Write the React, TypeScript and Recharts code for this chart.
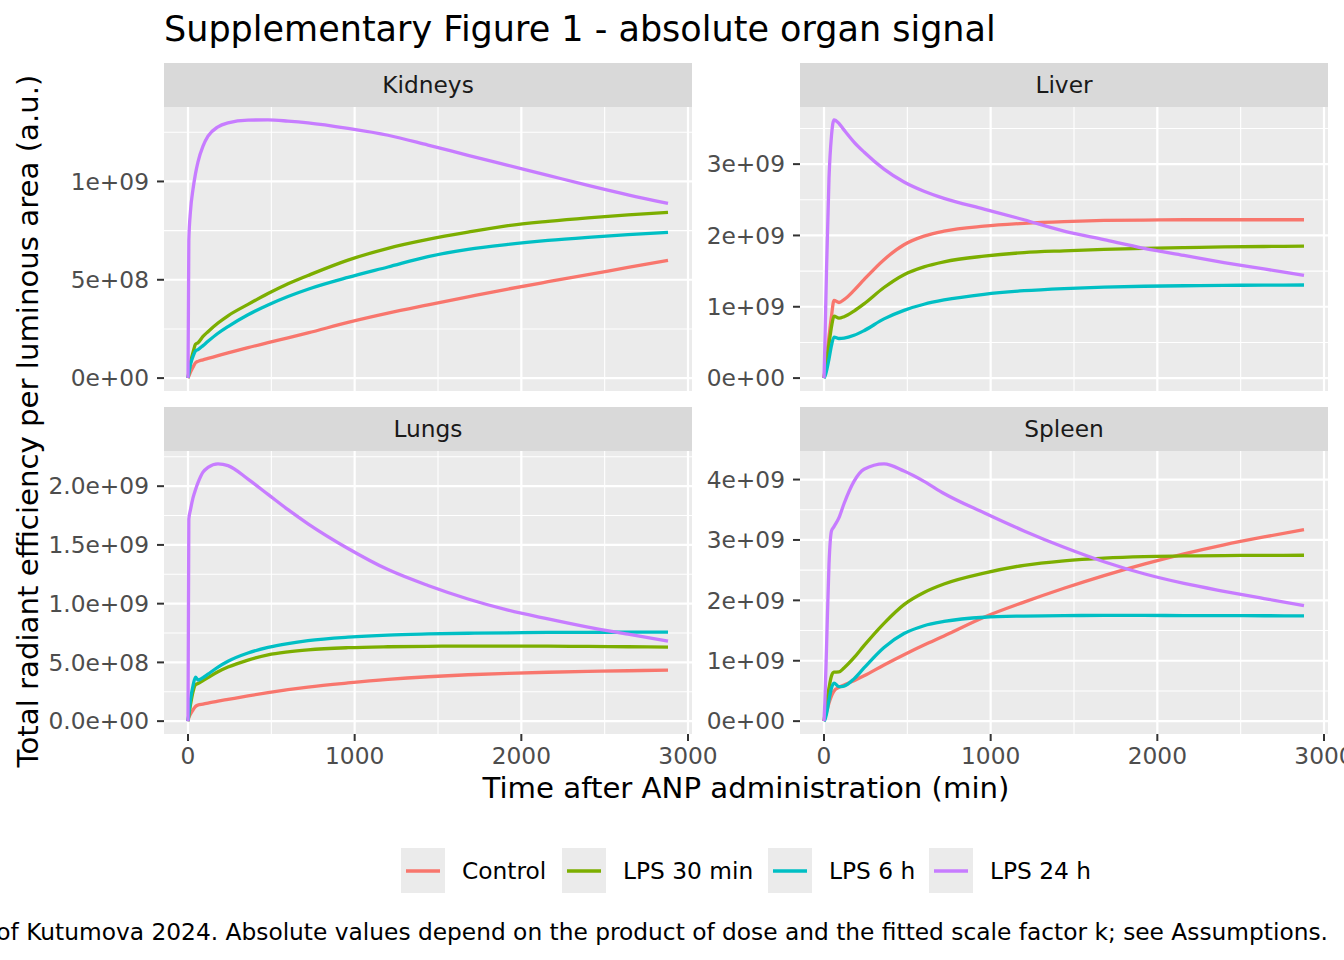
import { LineChart, Line, XAxis, YAxis, CartesianGrid } from "recharts";

// time after ANP administration (min)
const TIMES = [0, 5, 15, 30, 45, 60, 90, 120, 180, 240, 360, 480, 600, 720, 960, 1200, 1440, 1680, 1920, 2160, 2400, 2640, 2880];

const TREATMENTS = ["Control", "LPS 30 min", "LPS 6 h", "LPS 24 h"];
const KEYS = ["control", "lps30", "lps6", "lps24"];
const COLORS = ["#F8766D", "#7CAE00", "#00BFC4", "#C77CFF"];

// signal values in units of 1e9 a.u.
const KIDNEYS_CONTROL = [0, 0.01, 0.03, 0.055, 0.078, 0.085, 0.093, 0.1, 0.114, 0.128, 0.155, 0.18, 0.205, 0.23, 0.283, 0.33, 0.372, 0.413, 0.453, 0.49, 0.526, 0.563, 0.599];
const KIDNEYS_LPS30 = [0, 0.03, 0.08, 0.13, 0.172, 0.18, 0.212, 0.236, 0.28, 0.317, 0.375, 0.43, 0.48, 0.522, 0.6, 0.66, 0.705, 0.742, 0.775, 0.797, 0.815, 0.83, 0.843];
const KIDNEYS_LPS6 = [0, 0.025, 0.07, 0.11, 0.138, 0.145, 0.165, 0.187, 0.228, 0.262, 0.322, 0.372, 0.415, 0.452, 0.512, 0.565, 0.618, 0.655, 0.68, 0.7, 0.716, 0.73, 0.741];
const KIDNEYS_LPS24 = [0, 0.7, 0.85, 0.96, 1.04, 1.1, 1.18, 1.23, 1.278, 1.298, 1.312, 1.313, 1.307, 1.298, 1.27, 1.235, 1.185, 1.133, 1.082, 1.031, 0.98, 0.932, 0.888];

const LIVER_CONTROL = [0, 0.1, 0.3, 0.58, 0.87, 1.09, 1.06, 1.1, 1.23, 1.38, 1.66, 1.87, 1.99, 2.06, 2.13, 2.17, 2.195, 2.21, 2.215, 2.22, 2.22, 2.22, 2.22];
const LIVER_LPS30 = [0, 0.08, 0.25, 0.48, 0.72, 0.87, 0.84, 0.86, 0.94, 1.04, 1.27, 1.45, 1.56, 1.63, 1.71, 1.76, 1.785, 1.805, 1.82, 1.83, 1.84, 1.845, 1.85];
const LIVER_LPS6 = [0, 0.02, 0.1, 0.27, 0.46, 0.575, 0.555, 0.56, 0.6, 0.665, 0.83, 0.95, 1.035, 1.095, 1.175, 1.225, 1.255, 1.275, 1.288, 1.295, 1.3, 1.303, 1.305];
const LIVER_LPS24 = [0, 0.45, 1.5, 2.8, 3.4, 3.62, 3.57, 3.48, 3.31, 3.17, 2.93, 2.75, 2.62, 2.52, 2.37, 2.22, 2.06, 1.94, 1.82, 1.72, 1.62, 1.53, 1.44];

const LUNGS_CONTROL = [0, 0.03, 0.06, 0.095, 0.125, 0.137, 0.145, 0.153, 0.17, 0.185, 0.215, 0.243, 0.268, 0.29, 0.325, 0.355, 0.378, 0.395, 0.407, 0.416, 0.423, 0.429, 0.434];
const LUNGS_LPS30 = [0, 0.05, 0.14, 0.25, 0.31, 0.32, 0.345, 0.37, 0.42, 0.46, 0.52, 0.565, 0.59, 0.607, 0.625, 0.633, 0.637, 0.639, 0.639, 0.638, 0.636, 0.633, 0.63];
const LUNGS_LPS6 = [0, 0.06, 0.18, 0.3, 0.375, 0.35, 0.37, 0.4, 0.46, 0.51, 0.58, 0.627, 0.66, 0.685, 0.715, 0.733, 0.742, 0.748, 0.752, 0.755, 0.756, 0.757, 0.757];
const LUNGS_LPS24 = [0, 1.72, 1.8, 1.9, 1.97, 2.03, 2.12, 2.16, 2.19, 2.175, 2.06, 1.93, 1.8, 1.68, 1.47, 1.29, 1.155, 1.04, 0.945, 0.87, 0.8, 0.74, 0.681];

const SPLEEN_CONTROL = [0, 0.05, 0.15, 0.3, 0.42, 0.5, 0.56, 0.6, 0.67, 0.75, 0.93, 1.1, 1.26, 1.41, 1.72, 1.97, 2.2, 2.41, 2.6, 2.77, 2.92, 3.05, 3.17];
const SPLEEN_LPS30 = [0, 0.1, 0.3, 0.55, 0.75, 0.81, 0.815, 0.88, 1.05, 1.25, 1.62, 1.93, 2.13, 2.27, 2.45, 2.58, 2.655, 2.7, 2.725, 2.735, 2.742, 2.745, 2.747];
const SPLEEN_LPS6 = [0, 0.02, 0.12, 0.35, 0.55, 0.63, 0.57, 0.58, 0.7, 0.88, 1.22, 1.45, 1.58, 1.65, 1.72, 1.74, 1.748, 1.75, 1.75, 1.748, 1.746, 1.745, 1.743];
const SPLEEN_LPS24 = [0, 0.3, 1.2, 2.6, 3.15, 3.22, 3.37, 3.6, 3.97, 4.17, 4.26, 4.14, 3.97, 3.77, 3.45, 3.15, 2.88, 2.64, 2.44, 2.28, 2.15, 2.03, 1.914];

const X_TICKS = [0, 1000, 2000, 3000];
const X_LABELS = ["0", "1000", "2000", "3000"];

const KIDNEYS_Y_TICKS = [0, 0.5, 1];
const KIDNEYS_Y_LABELS = ["0e+00", "5e+08", "1e+09"];
const LIVER_Y_TICKS = [0, 1, 2, 3];
const LIVER_Y_LABELS = ["0e+00", "1e+09", "2e+09", "3e+09"];
const LUNGS_Y_TICKS = [0, 0.5, 1, 1.5, 2];
const LUNGS_Y_LABELS = ["0.0e+00", "5.0e+08", "1.0e+09", "1.5e+09", "2.0e+09"];
const SPLEEN_Y_TICKS = [0, 1, 2, 3, 4];
const SPLEEN_Y_LABELS = ["0e+00", "1e+09", "2e+09", "3e+09", "4e+09"];

const FONT = "DejaVu Sans";
const SMALL = 23.3;
const AXIS_TITLE = 29.2;

function buildRows(series: number[][]) {
  return TIMES.map((t, i) => {
    const row: Record<string, number> = { t };
    KEYS.forEach((k, j) => (row[k] = series[j][i]));
    return row;
  });
}

function minorBetween(ticks: number[], lo: number, hi: number) {
  const step = ticks[1] - ticks[0];
  const out: number[] = [];
  for (let v = ticks[0] - step / 2; v <= hi; v += step) if (v >= lo) out.push(v);
  return out;
}

type PanelProps = {
  rows: Record<string, number>[];
  yTicks: number[];
  yLabels: string[];
  left: number;
  top: number;
  width: number;
  plotHeight: number;
  yAxisWidth: number;
  showX: boolean;
  rightPad: number;
};

function Panel({ rows, yTicks, yLabels, left, top, width, plotHeight, yAxisWidth, showX, rightPad }: PanelProps) {
  const maxV = Math.max(...rows.flatMap((r) => KEYS.map((k) => r[k])));
  const yDomain = [-0.05 * maxV, maxV * 1.05];
  const xDomain = [-144, 3024];
  const xAxisH = showX ? 40 : 0;
  const tickStyle = { fill: "#4D4D4D", fontSize: SMALL, fontFamily: FONT };
  return (
    <div style={{ position: "absolute", left, top }}>
      <LineChart
        width={width}
        height={plotHeight + xAxisH}
        data={rows}
        margin={{ top: 0, right: rightPad, bottom: 0, left: 0 }}
      >
        <CartesianGrid
          fill="#EBEBEB"
          stroke="#FFFFFF"
          strokeWidth={1.1}
          horizontalValues={minorBetween(yTicks, yDomain[0], yDomain[1])}
          verticalValues={minorBetween(X_TICKS, xDomain[0], xDomain[1])}
        />
        <CartesianGrid
          stroke="#FFFFFF"
          strokeWidth={2.2}
          horizontalValues={yTicks}
          verticalValues={X_TICKS}
        />
        <XAxis
          type="number"
          dataKey="t"
          domain={xDomain}
          allowDataOverflow
          ticks={X_TICKS}
          tickFormatter={(v: number) => X_LABELS[X_TICKS.indexOf(v)]}
          hide={!showX}
          height={xAxisH}
          axisLine={false}
          tickSize={7}
          tickMargin={6}
          tickLine={{ stroke: "#333333", strokeWidth: 2 }}
          tick={tickStyle}
          interval={0}
        />
        <YAxis
          type="number"
          domain={yDomain}
          allowDataOverflow
          ticks={yTicks}
          tickFormatter={(v: number) => yLabels[yTicks.indexOf(v)]}
          width={yAxisWidth}
          axisLine={false}
          tickSize={7}
          tickMargin={8}
          tickLine={{ stroke: "#333333", strokeWidth: 2 }}
          tick={tickStyle}
          interval={0}
        />
        {KEYS.map((k, i) => (
          <Line
            key={k}
            type="monotone"
            dataKey={k}
            name={TREATMENTS[i]}
            stroke={COLORS[i]}
            strokeWidth={3.3}
            dot={false}
            isAnimationActive={false}
          />
        ))}
      </LineChart>
    </div>
  );
}

function Strip({ x, y, w, label }: { x: number; y: number; w: number; label: string }) {
  return (
    <g>
      <rect x={x} y={y} width={w} height={44} fill="#D9D9D9" />
      <text x={x + w / 2} y={y + 30} textAnchor="middle" fontSize={SMALL} fill="#1A1A1A" fontFamily={FONT}>
        {label}
      </text>
    </g>
  );
}

const LEGEND_KEY_X = [401, 562, 768, 929];

export default function App() {
  const kidneys = buildRows([KIDNEYS_CONTROL, KIDNEYS_LPS30, KIDNEYS_LPS6, KIDNEYS_LPS24]);
  const liver = buildRows([LIVER_CONTROL, LIVER_LPS30, LIVER_LPS6, LIVER_LPS24]);
  const lungs = buildRows([LUNGS_CONTROL, LUNGS_LPS30, LUNGS_LPS6, LUNGS_LPS24]);
  const spleen = buildRows([SPLEEN_CONTROL, SPLEEN_LPS30, SPLEEN_LPS6, SPLEEN_LPS24]);

  return (
    <div style={{ position: "absolute", left: 0, top: 0, width: 1344, height: 960, background: "#FFFFFF", overflow: "hidden" }}>
      <svg width={1344} height={960} style={{ position: "absolute", left: 0, top: 0 }}>
        <text x={164} y={41} fontSize={35} fontFamily={FONT} fill="#000000">
          Supplementary Figure 1 - absolute organ signal
        </text>
        <Strip x={164} y={63} w={528} label="Kidneys" />
        <Strip x={800} y={63} w={528} label="Liver" />
        <Strip x={164} y={407} w={528} label="Lungs" />
        <Strip x={800} y={407} w={528} label="Spleen" />
        <text
          transform="translate(38, 421) rotate(-90)"
          textAnchor="middle"
          fontSize={AXIS_TITLE}
          fontFamily={FONT}
          fill="#000000"
        >
          Total radiant efficiency per luminous area (a.u.)
        </text>
        <text x={746} y={798} textAnchor="middle" fontSize={AXIS_TITLE} fontFamily={FONT} fill="#000000">
          Time after ANP administration (min)
        </text>
        {TREATMENTS.map((name, i) => (
          <g key={name}>
            <rect x={LEGEND_KEY_X[i]} y={848} width={44} height={45} fill="#EBEBEB" />
            <line x1={LEGEND_KEY_X[i] + 5} x2={LEGEND_KEY_X[i] + 39} y1={871} y2={871} stroke={COLORS[i]} strokeWidth={3.3} />
            <text x={LEGEND_KEY_X[i] + 61} y={879} fontSize={SMALL} fontFamily={FONT} fill="#000000">
              {name}
            </text>
          </g>
        ))}
        <text x={1328} y={940} textAnchor="end" fontSize={SMALL} fontFamily={FONT} fill="#000000">
          of Kutumova 2024. Absolute values depend on the product of dose and the fitted scale factor k; see Assumptions.
        </text>
      </svg>
      <Panel rows={kidneys} yTicks={KIDNEYS_Y_TICKS} yLabels={KIDNEYS_Y_LABELS} left={0} top={107} width={692} plotHeight={284} yAxisWidth={164} showX={false} rightPad={0} />
      <Panel rows={liver} yTicks={LIVER_Y_TICKS} yLabels={LIVER_Y_LABELS} left={692} top={107} width={636} plotHeight={284} yAxisWidth={108} showX={false} rightPad={0} />
      <Panel rows={lungs} yTicks={LUNGS_Y_TICKS} yLabels={LUNGS_Y_LABELS} left={0} top={451} width={740} plotHeight={283} yAxisWidth={164} showX={true} rightPad={48} />
      <Panel rows={spleen} yTicks={SPLEEN_Y_TICKS} yLabels={SPLEEN_Y_LABELS} left={692} top={451} width={660} plotHeight={283} yAxisWidth={108} showX={true} rightPad={24} />
    </div>
  );
}
